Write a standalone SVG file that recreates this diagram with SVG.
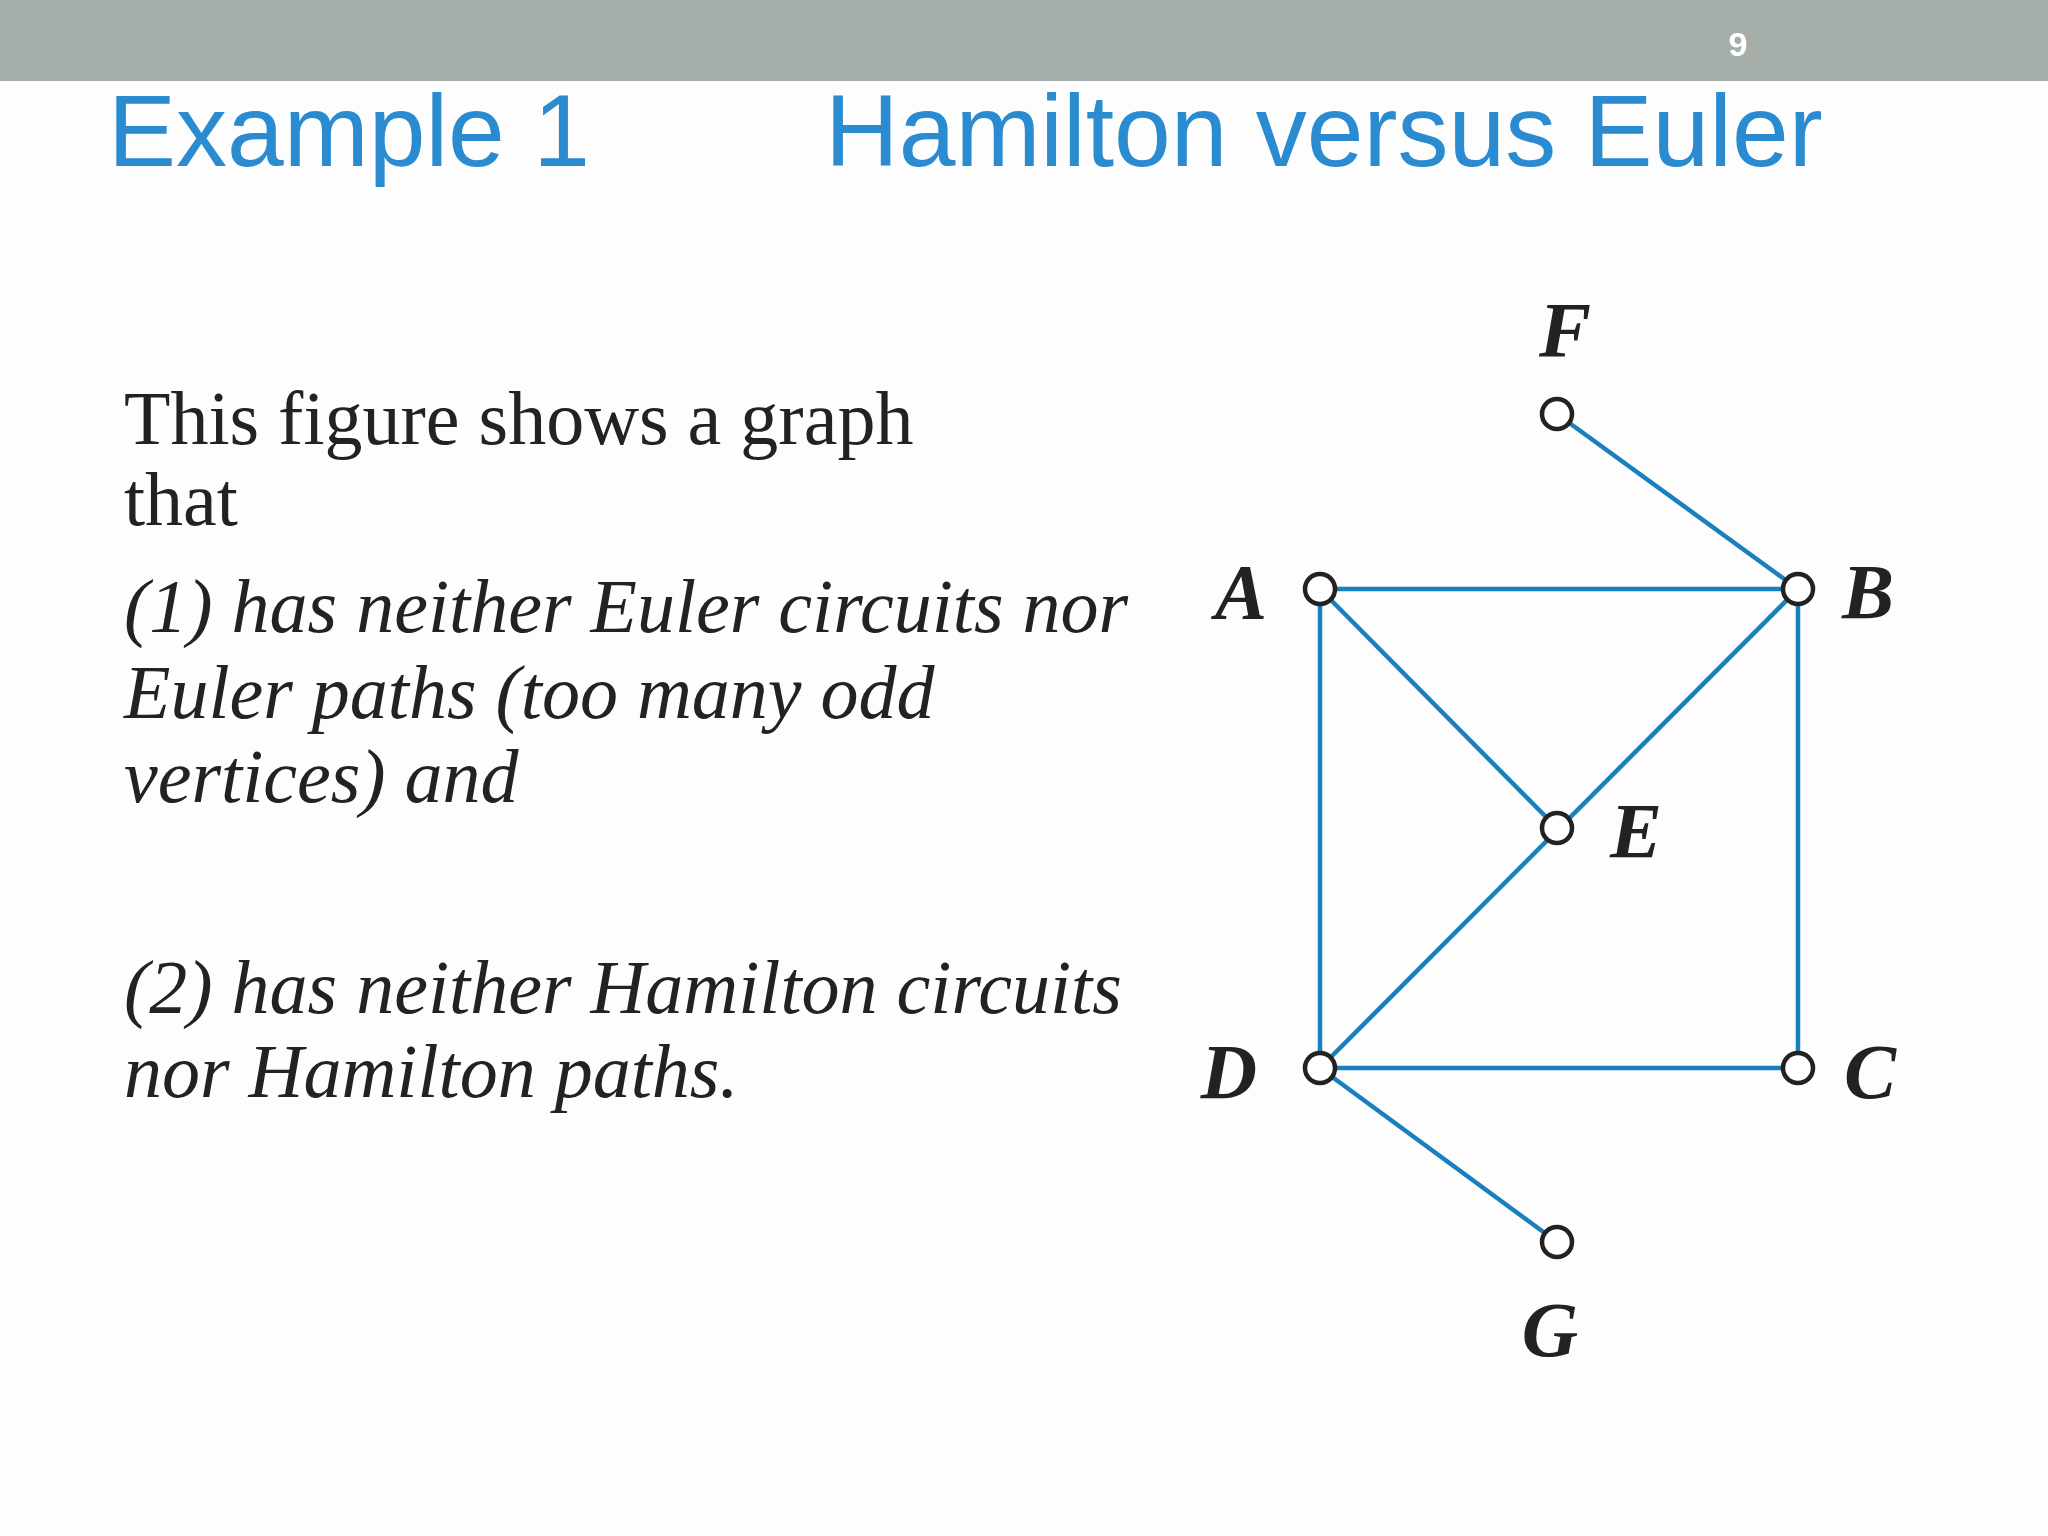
<svg xmlns="http://www.w3.org/2000/svg" width="2048" height="1536" viewBox="0 0 2048 1536">
<style>
.title{font-family:"Liberation Sans",Arial,sans-serif;font-size:102px;fill:#2a8bd0}
.body{font-family:"Liberation Serif","Times New Roman",serif;font-size:76px;fill:#222}
.it{font-style:italic}
.lbl{font-family:"Liberation Serif","Times New Roman",serif;font-size:78px;font-style:italic;font-weight:bold;fill:#222;text-anchor:middle}
.edge{stroke:#1a80bd;stroke-width:4.5;fill:none}
.node{fill:#fff;stroke:#222;stroke-width:4.5}
</style>
<rect width="2048" height="1536" fill="#fdfdfd"/>
<rect x="0" y="0" width="2048" height="81" fill="#a5aea8"/>
<text x="1738" y="56" font-family="Liberation Sans,Arial,sans-serif" font-size="34" font-weight="bold" fill="#fff" text-anchor="middle">9</text>
<text class="title" x="108" y="166">Example 1</text>
<text class="title" x="825" y="166">Hamilton versus Euler</text>
<text class="body" x="124" y="444">This figure shows a graph</text>
<text class="body" x="124" y="525">that</text>
<text class="body it" x="124" y="632">(1) has neither Euler circuits nor</text>
<text class="body it" x="124" y="718">Euler paths (too many odd</text>
<text class="body it" x="124" y="802">vertices) and</text>
<text class="body it" x="124" y="1013">(2) has neither Hamilton circuits</text>
<text class="body it" x="124" y="1097">nor Hamilton paths.</text>
<g id="edges">
<line class="edge" x1="1557" y1="414" x2="1798" y2="589"/>
<line class="edge" x1="1320" y1="589" x2="1798" y2="589"/>
<line class="edge" x1="1320" y1="589" x2="1320" y2="1068"/>
<line class="edge" x1="1798" y1="589" x2="1798" y2="1068"/>
<line class="edge" x1="1320" y1="589" x2="1557" y2="828"/>
<line class="edge" x1="1798" y1="589" x2="1320" y2="1068"/>
<line class="edge" x1="1320" y1="1068" x2="1798" y2="1068"/>
<line class="edge" x1="1320" y1="1068" x2="1557" y2="1242"/>
</g>
<g id="F"><circle class="node" cx="1557" cy="414" r="15"/><text class="lbl" x="1565" y="356">F</text></g>
<g id="A"><circle class="node" cx="1320" cy="589" r="15"/><text class="lbl" x="1241" y="618">A</text></g>
<g id="B"><circle class="node" cx="1798" cy="589" r="15"/><text class="lbl" x="1868" y="618">B</text></g>
<g id="E"><circle class="node" cx="1557" cy="828" r="15"/><text class="lbl" x="1636" y="857">E</text></g>
<g id="D"><circle class="node" cx="1320" cy="1068" r="15"/><text class="lbl" x="1229" y="1098">D</text></g>
<g id="C"><circle class="node" cx="1798" cy="1068" r="15"/><text class="lbl" x="1870" y="1098">C</text></g>
<g id="G"><circle class="node" cx="1557" cy="1242" r="15"/><text class="lbl" x="1550" y="1356">G</text></g>
</svg>
